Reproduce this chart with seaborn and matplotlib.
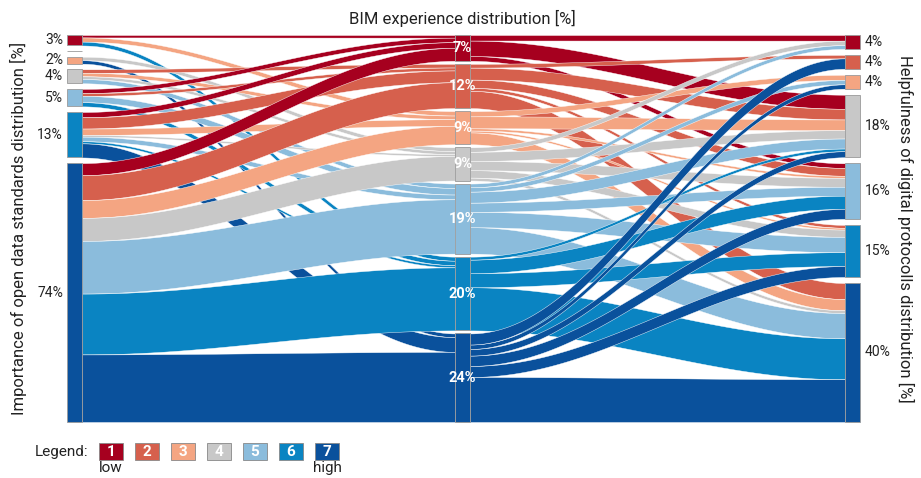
import matplotlib.pyplot as plt
import matplotlib.patches as mpatches
import seaborn as sns
import numpy as np

# Category colours (1 = low ... 7 = high)
cats = ['1', '2', '3', '4', '5', '6', '7']
palette = sns.color_palette(['#a6001f', '#d6604d', '#f4a582', '#c8c8c8',
                             '#8bbcdc', '#0a84c2', '#0a519c'])

# Node percentages
left_pct = [3, 0, 2, 4, 5, 13, 74]      # importance of open data standards
mid_pct = [7, 12, 9, 9, 19, 20, 24]     # BIM experience
right_pct = [4, 4, 4, 18, 16, 15, 40]   # helpfulness of digital protocolls

# rows: importance of open data standards, cols: BIM experience (in %)
left_mid = np.array([
    [0.7, 0.0, 1.2, 0.0, 0.0, 1.1, 0.0],
    [0.0, 0.0, 0.0, 0.0, 0.0, 0.0, 0.0],
    [0.0, 0.0, 0.0, 1.0, 0.0, 0.0, 1.0],
    [0.0, 1.0, 1.0, 0.8, 1.2, 0.0, 0.0],
    [1.2, 0.8, 0.0, 0.0, 1.8, 1.2, 0.0],
    [1.5, 3.2, 1.8, 0.5, 1.3, 0.6, 4.0],
    [3.4, 7.0, 5.0, 6.5, 14.8, 17.1, 19.0],
])

# rows: BIM experience, cols: helpfulness of digital protocolls (in %)
mid_right = np.array([
    [1.5, 0.0, 0.0, 4.2, 1.3, 0.0, 0.0],
    [0.0, 1.0, 0.0, 3.2, 2.2, 0.8, 4.6],
    [0.0, 0.0, 1.4, 3.2, 0.6, 0.5, 3.2],
    [1.2, 0.0, 0.0, 2.5, 2.5, 2.0, 0.8],
    [1.0, 0.0, 1.2, 3.0, 2.5, 4.2, 7.2],
    [0.0, 0.0, 0.0, 0.8, 3.7, 3.8, 11.7],
    [0.0, 3.0, 1.2, 1.8, 2.8, 3.0, 12.2],
])

sns.set_theme(style='white')
plt.rcParams['font.family'] = ['Roboto', 'DejaVu Sans']

TOP, BOTTOM = 35, 422
col_x = [67, 455, 845]
bar_w = 15
gaps = [5.6, 3.0, 6.0]


def node_positions(pct, gap):
    pct = np.asarray(pct, float)
    scale = (BOTTOM - TOP - gap * (len(pct) - 1)) / pct.sum()
    h = pct * scale
    y0 = TOP + np.concatenate([[0], np.cumsum(h[:-1] + gap)])
    return y0, h


def band(ax, x0, x1, a0, a1, b0, b1, color):
    x = np.linspace(x0, x1, 120)
    t = (1 - np.cos(np.pi * (x - x0) / (x1 - x0))) / 2
    top = a0 + (b0 - a0) * t
    bot = a1 + (b1 - a1) * t
    ax.fill_between(x, top, bot, color=color, lw=0.3, edgecolor='white')


def stack_offsets(flows, height):
    tot = flows.sum()
    if tot == 0:
        return np.zeros(len(flows)), np.zeros(len(flows))
    w = flows / tot * height
    start = np.concatenate([[0], np.cumsum(w[:-1])])
    return start, w


fig = plt.figure(figsize=(9.21, 4.78), dpi=100)
ax = fig.add_axes([0, 0, 1, 1])
ax.set_xlim(0, 921)
ax.set_ylim(478, 0)
ax.axis('off')

yL, hL = node_positions(left_pct, gaps[0])
yM, hM = node_positions(mid_pct, gaps[1])
yR, hR = node_positions(right_pct, gaps[2])

# left -> middle flows (coloured by BIM experience)
flows = []
for i in range(7):
    s_out, w_out = stack_offsets(left_mid[i], hL[i])
    for j in range(7):
        if left_mid[i, j] <= 0:
            continue
        s_in, w_in = stack_offsets(left_mid[:, j], hM[j])
        flows.append((i, j, yL[i] + s_out[j], yL[i] + s_out[j] + w_out[j],
                      yM[j] + s_in[i], yM[j] + s_in[i] + w_in[i]))
for i, j, a0, a1, b0, b1 in flows:
    band(ax, col_x[0] + bar_w, col_x[1], a0, a1, b0, b1, palette[j])

# middle -> right flows
flows = []
for j in range(7):
    s_out, w_out = stack_offsets(mid_right[j], hM[j])
    for k in range(7):
        if mid_right[j, k] <= 0:
            continue
        s_in, w_in = stack_offsets(mid_right[:, k], hR[k])
        flows.append((k, j, yM[j] + s_out[k], yM[j] + s_out[k] + w_out[k],
                      yR[k] + s_in[j], yR[k] + s_in[j] + w_in[j]))
for k, j, a0, a1, b0, b1 in sorted(flows, key=lambda f: -f[0]):
    band(ax, col_x[1] + bar_w, col_x[2], a0, a1, b0, b1, palette[j])

# nodes
for x, ys, hs in zip(col_x, [yL, yM, yR], [hL, hM, hR]):
    for c in range(7):
        ax.add_patch(mpatches.Rectangle((x, ys[c]), bar_w, max(hs[c], 0.3),
                                        facecolor=palette[c], edgecolor='#9a9a9a',
                                        lw=0.6, zorder=3))

for c in range(7):
    if left_pct[c] > 0:
        ax.text(col_x[0] - 4, yL[c] + hL[c] / 2, f'{left_pct[c]}%', ha='right',
                va='center', fontsize=10, color='#222222')
    ax.text(col_x[1] + bar_w / 2, yM[c] + hM[c] / 2, f'{mid_pct[c]}%', ha='center',
            va='center', fontsize=10.5, color='white', fontweight='bold', zorder=4)
    ax.text(col_x[2] + bar_w + 5, yR[c] + hR[c] / 2, f'{right_pct[c]}%', ha='left',
            va='center', fontsize=10, color='#222222')

ax.text(col_x[1] + bar_w / 2, 18, 'BIM experience distribution [%]', ha='center',
        va='center', fontsize=12, color='#222222')
ax.text(18, (TOP + BOTTOM) / 2, 'Importance of open data standards distribution [%]',
        rotation=90, ha='center', va='center', fontsize=12, color='#222222')
ax.text(906, (TOP + BOTTOM) / 2, 'Helpfulness of digital protocolls distribution [%]',
        rotation=270, ha='center', va='center', fontsize=12, color='#222222')

# legend
ax.text(88, 452, 'Legend:', ha='right', va='center', fontsize=11, color='#222222')
for c in range(7):
    lx = 99 + c * 36
    ax.add_patch(mpatches.Rectangle((lx, 443), 24, 17, facecolor=palette[c],
                                    edgecolor='#888888', lw=0.6))
    ax.text(lx + 12, 451.5, cats[c], ha='center', va='center', fontsize=11,
            color='white', fontweight='bold')
ax.text(99 + 12, 468, 'low', ha='center', va='center', fontsize=11, color='#222222')
ax.text(99 + 6 * 36 + 12, 468, 'high', ha='center', va='center', fontsize=11,
        color='#222222')

fig.savefig('out.png', dpi=100)
